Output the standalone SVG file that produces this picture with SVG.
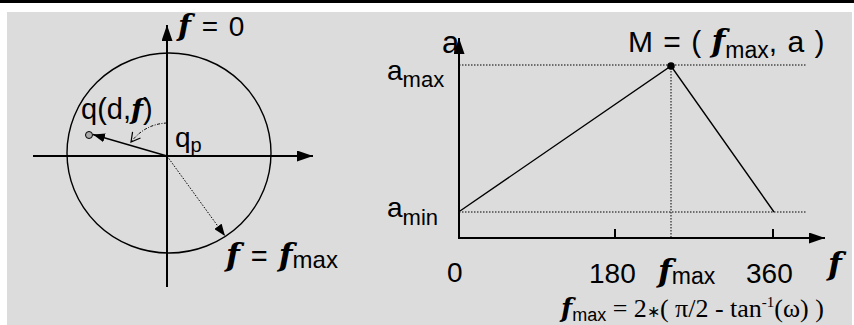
<svg xmlns="http://www.w3.org/2000/svg" width="854" height="325" viewBox="0 0 854 325">
<style>
.s{font-family:"Liberation Sans",Arial,sans-serif;fill:#000}
.f{font-family:"DejaVu Serif","Liberation Serif",serif;font-weight:bold;font-style:italic;fill:#000}
.t{font-family:"Liberation Serif","Times New Roman",serif;fill:#000}
.ax{stroke:#000;stroke-width:2;fill:none}
.ln{stroke:#000;stroke-width:1.4;fill:none}
.dot{stroke:#000;stroke-width:1;stroke-dasharray:1.5 1.5;fill:none}
</style>
<defs>
<marker id="ah" markerUnits="userSpaceOnUse" markerWidth="16" markerHeight="11" refX="16" refY="5.5" orient="auto"><path d="M0,0 L16,5.5 L0,11 z" fill="#000"/></marker>
<marker id="sm" markerUnits="userSpaceOnUse" markerWidth="12" markerHeight="9" refX="12" refY="4.5" orient="auto"><path d="M0,0 L12,4.5 L0,9 z" fill="#000"/></marker>
<marker id="op" markerUnits="userSpaceOnUse" markerWidth="12" markerHeight="12" refX="10" refY="6" orient="auto"><path d="M1,1 L10,6 L1,11" fill="none" stroke="#000" stroke-width="1.2"/></marker>
</defs>
<rect x="0" y="0" width="854" height="325" fill="#fff"/>
<rect x="0" y="0" width="854" height="3" fill="#000"/>
<rect x="7" y="12" width="845" height="313" fill="#dcdcdc"/>

<g id="connectors">
<ellipse cx="169" cy="153" rx="102" ry="100" class="ln" stroke-width="1.2"/>
<line x1="167" y1="287" x2="167" y2="25" class="ax" marker-end="url(#ah)"/>
<line x1="33" y1="156" x2="313" y2="156" class="ax" marker-end="url(#ah)"/>
<line x1="167" y1="156" x2="93" y2="134.5" class="ln" stroke-width="1.6" marker-end="url(#sm)"/>
<line x1="167" y1="156" x2="225" y2="236" class="dot" marker-end="url(#sm)"/>
<path d="M167,123 Q145,124 131,142" stroke="#000" stroke-width="1" stroke-dasharray="3 1.5 1 1.5" fill="none" marker-end="url(#op)"/>
<line x1="459" y1="65" x2="807" y2="65" class="dot"/>
<line x1="459" y1="212" x2="807" y2="212" class="dot"/>
<line x1="671" y1="65" x2="671" y2="238" class="dot"/>
<line x1="459" y1="239" x2="459" y2="38" class="ax" marker-end="url(#ah)"/>
<line x1="458" y1="238" x2="825" y2="238" class="ax" marker-end="url(#ah)"/>
<line x1="615" y1="229" x2="615" y2="238" class="ax"/>
<line x1="773" y1="229" x2="773" y2="238" class="ax"/>
<polyline points="460,211 671,66 774,212" class="ln"/>
</g>

<g id="node-q">
<circle cx="89" cy="135" r="3.5" fill="#aaa" stroke="#000" stroke-width="1"/>
<text x="81" y="119" class="s" font-size="29">q(d,<tspan class="f" font-size="28">f</tspan>)</text>
</g>
<g id="node-M">
<circle cx="671" cy="66" r="3.8" fill="#000"/>
<text x="628" y="52" class="s" font-size="30" word-spacing="2">M = ( <tspan class="f" font-size="32">f</tspan><tspan font-size="23" dy="6">max</tspan><tspan dy="-6">, a )</tspan></text>
</g>

<g id="labels">
<text x="178" y="36" font-size="28" class="s" word-spacing="3"><tspan class="f" font-size="30">f</tspan> = 0</text>
<text x="175" y="147" font-size="28" class="s">q<tspan font-size="20" dy="5">p</tspan></text>
<text x="226" y="266" font-size="29" class="s" word-spacing="3"><tspan class="f" font-size="32">f</tspan> = <tspan class="f" font-size="32">f</tspan><tspan font-size="24" dy="2">max</tspan></text>

<text x="442" y="53" font-size="31" class="s">a</text>
<text x="387" y="80" font-size="28" class="s">a<tspan font-size="22" dy="7">max</tspan></text>
<text x="387" y="217" font-size="28" class="s">a<tspan font-size="22" dy="8">min</tspan></text>
<text x="447" y="282" font-size="28" class="s">0</text>
<text x="589" y="283" font-size="28" class="s">180</text>
<text x="658" y="282" font-size="28" class="s"><tspan class="f" font-size="32">f</tspan><tspan font-size="23" dy="2">max</tspan></text>
<text x="746" y="283" font-size="28" class="s">360</text>
<text x="828" y="275" font-size="32" class="f">f</text>
<text x="561" y="317" font-size="26" class="t"><tspan class="f" font-size="26">f</tspan><tspan class="s" font-size="18" dy="4">max</tspan><tspan dy="-4"> = 2</tspan><tspan font-size="16">∗</tspan>( π/2 - tan<tspan font-size="15" dy="-10">-1</tspan><tspan dy="10">(ω) )</tspan></text>
</g>
</svg>
